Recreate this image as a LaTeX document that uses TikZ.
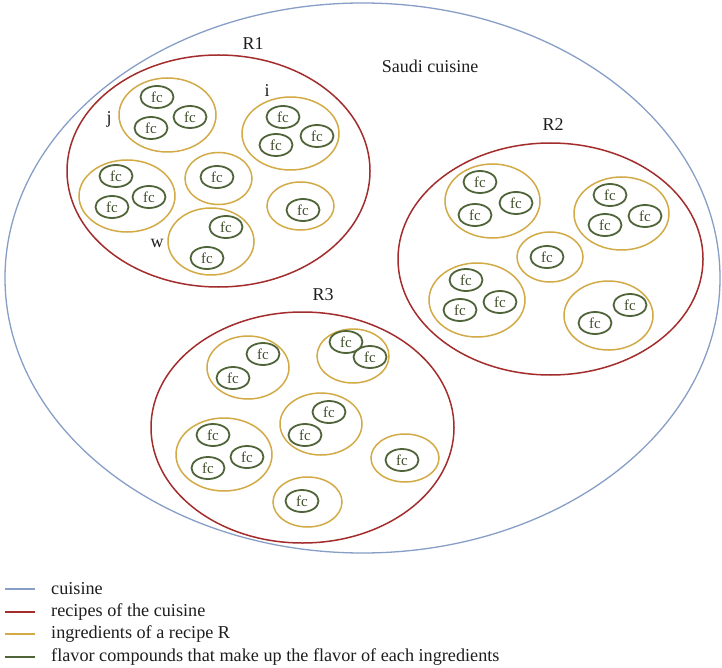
\documentclass[tikz,border=0pt]{standalone}
\usepackage{fontspec}
\setmainfont{Liberation Serif}
\usetikzlibrary{shapes.geometric}
\definecolor{cblue}{RGB}{135,158,198}
\definecolor{cred}{RGB}{163,45,45}
\definecolor{cyel}{RGB}{210,170,70}
\definecolor{cgreen}{RGB}{80,100,58}
\definecolor{ctext}{RGB}{30,30,30}
\definecolor{cfc}{RGB}{65,78,45}
\tikzset{
  cuis/.style={ellipse, draw=cblue, line width=1.3pt, inner sep=0pt},
  recipe/.style={ellipse, draw=cred, line width=1.5pt, inner sep=0pt},
  ingr/.style={ellipse, draw=cyel, line width=1.5pt, inner sep=0pt},
  fc/.style={ellipse, draw=cgreen, line width=1.8pt, inner sep=0pt, minimum width=33pt, minimum height=22pt, text=cfc, font=\fontsize{15}{15}\selectfont},
  lbl/.style={text=ctext, font=\fontsize{18}{18}\selectfont, inner sep=0pt},
  leg/.style={text=ctext, font=\fontsize{18.2}{18.2}\selectfont, anchor=west, inner sep=0pt},
  legline/.style={line width=1.3pt}
}
\begin{document}
\begin{tikzpicture}[x=1pt,y=-1pt]
\useasboundingbox (0,0) rectangle (722,668);
\fill[white] (0,0) rectangle (722,668);
% cuisine
\node[cuis, minimum width=715pt, minimum height=550pt] (cu) at (362.5,278) {};
\node[lbl] (sc) at (430,66) {Saudi cuisine};
% R1
\node[recipe, minimum width=303pt, minimum height=232pt] (r1) at (218.5,171) {};
\node[lbl] (r1l) at (253,44) {R1};
\node[ingr, minimum width=97pt, minimum height=74pt] (a1) at (167.5,115) {};
\node[fc] (a1a) at (157,97) {fc};
\node[fc] (a1b) at (190,117) {fc};
\node[fc] (a1c) at (151,128) {fc};
\node[lbl] (lj) at (109,119) {j};
\node[ingr, minimum width=97pt, minimum height=73pt] (a2) at (290.5,133.5) {};
\node[fc] (a2a) at (283,117) {fc};
\node[fc] (a2b) at (317,136) {fc};
\node[fc] (a2c) at (276,145) {fc};
\node[lbl] (li) at (267,91) {i};
\node[ingr, minimum width=96pt, minimum height=72pt] (a3) at (127,196) {};
\node[fc] (a3a) at (116,176) {fc};
\node[fc] (a3b) at (149,197) {fc};
\node[fc] (a3c) at (112,207) {fc};
\node[ingr, minimum width=67pt, minimum height=52pt] (a4) at (218.5,178.5) {};
\node[fc] (a4a) at (217,177) {fc};
\node[ingr, minimum width=67pt, minimum height=48pt] (a5) at (300.5,206) {};
\node[fc] (a5a) at (303,210) {fc};
\node[ingr, minimum width=86pt, minimum height=67pt] (a6) at (211,241.5) {};
\node[fc] (a6a) at (226,227) {fc};
\node[fc] (a6b) at (207,258) {fc};
\node[lbl] (lw) at (157,243) {w};
% R2
\node[recipe, minimum width=305pt, minimum height=232pt] (r2) at (550.5,259) {};
\node[lbl] (r2l) at (553,125) {R2};
\node[ingr, minimum width=95pt, minimum height=74pt] (b1) at (492.5,201) {};
\node[fc] (b1a) at (480,182) {fc};
\node[fc] (b1b) at (516,203) {fc};
\node[fc] (b1c) at (475,215) {fc};
\node[ingr, minimum width=95pt, minimum height=73pt] (b2) at (621.5,213.5) {};
\node[fc] (b2a) at (610,195) {fc};
\node[fc] (b2b) at (645,216) {fc};
\node[fc] (b2c) at (605,225) {fc};
\node[ingr, minimum width=66pt, minimum height=50pt] (b3) at (550,257) {};
\node[fc] (b3a) at (547,257) {fc};
\node[ingr, minimum width=96pt, minimum height=74pt] (b4) at (477,300) {};
\node[fc] (b4a) at (466,280) {fc};
\node[fc] (b4b) at (500,302) {fc};
\node[fc] (b4c) at (460,310) {fc};
\node[ingr, minimum width=89pt, minimum height=69pt] (b5) at (608.5,315.5) {};
\node[fc] (b5a) at (630,305) {fc};
\node[fc] (b5b) at (595,323) {fc};
% R3
\node[recipe, minimum width=303pt, minimum height=231pt] (r3) at (302.5,427.5) {};
\node[lbl] (r3l) at (323,295) {R3};
\node[ingr, minimum width=82pt, minimum height=63pt] (c1) at (248,367.5) {};
\node[fc] (c1a) at (263,354) {fc};
\node[fc] (c1b) at (233,378) {fc};
\node[ingr, minimum width=72pt, minimum height=54pt] (c2) at (353,356) {};
\node[fc] (c2a) at (346,342) {fc};
\node[fc] (c2b) at (370,357) {fc};
\node[ingr, minimum width=82pt, minimum height=62pt] (c3) at (321,424) {};
\node[fc] (c3a) at (329,412) {fc};
\node[fc] (c3b) at (305,435) {fc};
\node[ingr, minimum width=96pt, minimum height=73pt] (c4) at (224,454.5) {};
\node[fc] (c4a) at (213,435) {fc};
\node[fc] (c4b) at (247,457) {fc};
\node[fc] (c4c) at (208,468) {fc};
\node[ingr, minimum width=68pt, minimum height=48pt] (c5) at (405,458) {};
\node[fc] (c5a) at (402,460) {fc};
\node[ingr, minimum width=69pt, minimum height=50pt] (c6) at (307.5,502) {};
\node[fc] (c6a) at (302,501) {fc};
% legend
\coordinate (l1s) at (5,589); \coordinate (l1e) at (35,589);
\coordinate (l2s) at (5,612); \coordinate (l2e) at (35,612);
\coordinate (l3s) at (5,634); \coordinate (l3e) at (35,634);
\coordinate (l4s) at (5,657); \coordinate (l4e) at (35,657);
\draw[legline, cblue] (l1s) -- (l1e);
\draw[legline, cred] (l2s) -- (l2e);
\draw[legline, cyel] (l3s) -- (l3e);
\draw[legline, cgreen] (l4s) -- (l4e);
\node[leg] (t1) at (51,589) {cuisine};
\node[leg] (t2) at (51,612) {recipes of the cuisine};
\node[leg] (t3) at (51,634) {ingredients of a recipe R};
\node[leg] (t4) at (51,657) {flavor compounds that make up the flavor of each ingredients};
\end{tikzpicture}
\end{document}
